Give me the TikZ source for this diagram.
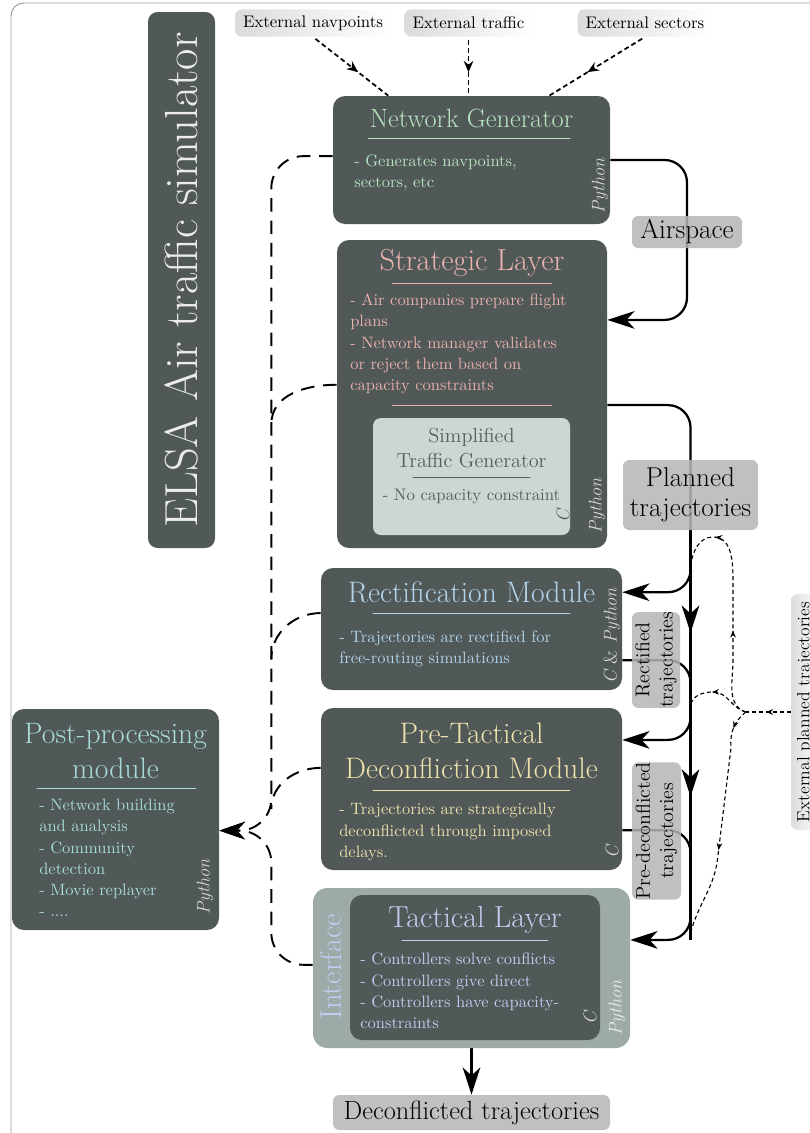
\documentclass[tikz,border=0pt]{standalone}
\usepackage{tikz}
\usetikzlibrary{arrows.meta, calc, decorations.markings, backgrounds}
\definecolor{slateBox}{RGB}{80,88,88}
\definecolor{mintTxt}{RGB}{184,228,190}
\definecolor{roseTxt}{RGB}{234,178,172}
\definecolor{skyTxt}{RGB}{178,212,234}
\definecolor{aquaTxt}{RGB}{168,218,218}
\definecolor{sandTxt}{RGB}{238,226,172}
\definecolor{lilacTxt}{RGB}{196,204,240}
\definecolor{paleBox}{RGB}{205,214,213}
\definecolor{paleTxt}{RGB}{85,93,93}
\definecolor{ifaceBox}{RGB}{158,170,168}
\definecolor{tagGray}{RGB}{181,181,181}
\definecolor{frameGray}{RGB}{155,155,155}
\tikzset{
  boxsize/.style 2 args={minimum width=#1*0.625pt, minimum height=#2*0.625pt},
  slate/.style={fill=slateBox, rounded corners=7.5pt, inner sep=0pt},
  tagbox/.style={fill=tagGray, fill opacity=0.85, text opacity=1, rounded corners=4pt,
    inner sep=0pt, align=center, font=\fontsize{17}{19}\selectfont},
  extbox/.style={left color=gray!28, right color=white, rounded corners=4pt,
    inner xsep=5pt, inner ysep=0pt, minimum height=17pt, font=\fontsize{10.5}{12}\selectfont},
  boxtitle/.style={inner sep=0pt, align=center, font=\fontsize{18.5}{22}\selectfont},
  boxtext/.style={inner sep=0pt, align=left, anchor=west, font=\fontsize{10.3}{13.3}\selectfont},
  langtag/.style={inner sep=0pt, rotate=90, text=gray!30, font=\fontsize{11.5}{13}\selectfont\itshape},
  rule/.style={line width=0.6pt},
  flow/.style={line width=1.4pt, -{Stealth[length=17pt, width=11pt, inset=5pt]}},
  feedline/.style={line width=1.2pt, dash pattern=on 8.5pt off 5.5pt},
  feed/.style={feedline, -{Stealth[length=16pt, width=11pt, inset=5pt]}},
  extfeed/.style={line width=1.1pt, dash pattern=on 3pt off 2pt},
  extplanline/.style={line width=0.7pt, dash pattern=on 2.5pt off 1.8pt},
  midtip/.style={postaction={decorate, decoration={markings,
    mark=at position #1 with {\arrow{Stealth[length=7pt, width=6pt]}}}}},
  smalltip/.style={postaction={decorate, decoration={markings,
    mark=at position #1 with {\arrow{Stealth[length=4.5pt, width=3.5pt]}}}}},
  bigtip/.style={postaction={decorate, decoration={markings,
    mark=at position #1 with {\arrow{Stealth[length=17pt, width=11pt, inset=5pt]}}}}},
}

\begin{document}
\begin{tikzpicture}[x=0.625pt, y=0.625pt, line cap=round]
  \useasboundingbox (0,0) rectangle (809,-1133);
  \draw[frameGray, line width=0.6pt, rounded corners=8pt] (11,-3) rectangle (860,-1180);

  \node[slate, rotate=90, boxsize={536}{67}, rounded corners=6pt, text=gray!15,
    font=\fontsize{29}{32}\selectfont] (elsa) at (181.5,-280) {ELSA Air traffic simulator};

  \node[extbox] (extnav) at (313,-23) {External navpoints};
  \node[extbox] (exttraf) at (468.5,-23) {External traffic};
  \node[extbox] (extsec) at (645,-23) {External sectors};

  % network generator
  \node[slate, boxsize={277}{128}] (netgen) at (471.5,-160) {};
  \node[boxtitle, text=mintTxt, font=\fontsize{16.5}{20}\selectfont] (netgenT) at (471.5,-118) {Network Generator};
  \draw[rule, mintTxt] (368,-138) -- (570,-138);
  \node[boxtext, text=mintTxt] (netgenB) at (354,-173) {- Generates navpoints,\\sectors, etc};
  \node[langtag] (netgenL) at (600,-186) {Python};

  \node[tagbox, boxsize={110}{32}] (airsp) at (687,-232) {Airspace};

  % strategic layer
  \node[slate, boxsize={270}{308}] (strat) at (472,-394) {};
  \node[boxtitle, text=roseTxt, font=\fontsize{19}{22}\selectfont] (stratT) at (472,-263) {Strategic Layer};
  \draw[rule, roseTxt] (392,-283) -- (552,-283);
  \node[boxtext, text=roseTxt] (stratB) at (350,-344) {- Air companies prepare flight\\plans\\- Network manager validates\\or reject them based on\\capacity constraints};
  \draw[rule, roseTxt] (392,-405) -- (552,-405);
  \node[fill=paleBox, rounded corners=5pt, boxsize={197}{117}] (simpl) at (471.5,-476.5) {};
  \node[inner sep=0pt, text=paleTxt, align=center, font=\fontsize{12.7}{15.6}\selectfont] (simplT) at (471.5,-448) {Simplified\\Traffic Generator};
  \draw[rule, paleTxt] (413,-477) -- (530,-477);
  \node[inner sep=0pt, text=paleTxt, font=\fontsize{10.5}{13}\selectfont] (simplB) at (471.5,-496) {- No capacity constraint};
  \node[langtag, text=paleTxt] (simplL) at (563,-516) {C};
  \node[langtag] (stratL) at (597,-506) {Python};

  \node[tagbox, boxsize={135}{70}] (plan) at (690.5,-495) {Planned\\trajectories};

  % rectification
  \node[slate, boxsize={301}{122}] (rectif) at (471.5,-629) {};
  \node[boxtitle, text=skyTxt] (rectifT) at (471.5,-592) {Rectification Module};
  \draw[rule, skyTxt] (373,-613) -- (570,-613);
  \node[boxtext, text=skyTxt] (rectifB) at (339,-649) {- Trajectories are rectified for\\free-routing simulations};
  \node[langtag] (rectifL) at (612,-636) {C {\upshape\&} Python};
  \node[tagbox, rotate=90, boxsize={90}{48}, font=\fontsize{12.5}{14.5}\selectfont] (rectTag) at (656,-660) {Rectified\\trajectories};

  % post-processing
  \node[slate, boxsize={207}{221}] (post) at (115.5,-819.5) {};
  \node[boxtitle, text=aquaTxt] (postT) at (115.5,-751) {Post-processing\\module};
  \draw[rule, aquaTxt] (37,-788) -- (196,-788);
  \node[boxtext, text=aquaTxt] (postB) at (39,-858) {- Network building\\and analysis\\- Community\\detection\\- Movie replayer\\- ....};
  \node[langtag] (postL) at (205,-887) {Python};

  % pre-tactical
  \node[slate, boxsize={301}{162}] (pretac) at (471.5,-789) {};
  \node[boxtitle, text=sandTxt] (pretacT) at (471.5,-751) {Pre-Tactical\\Deconfliction Module};
  \draw[rule, sandTxt] (373,-790) -- (570,-790);
  \node[boxtext, text=sandTxt] (pretacB) at (339,-832) {- Trajectories are strategically\\deconflicted through imposed\\delays.};
  \node[langtag] (pretacL) at (612,-852) {C};
  \node[tagbox, rotate=90, boxsize={128}{49}, font=\fontsize{12.5}{14.5}\selectfont] (preTag) at (656.5,-831) {Pre-deconflicted\\trajectories};

  % tactical layer + interface
  \node[fill=ifaceBox, rounded corners=9pt, boxsize={317}{160}] (iface) at (471.5,-968) {};
  \node[rotate=90, inner sep=0pt, text=lilacTxt, font=\fontsize{19}{22}\selectfont] (ifaceT) at (331,-967) {Interface};
  \node[slate, boxsize={250}{145}] (tact) at (475,-967.5) {};
  \node[boxtitle, text=lilacTxt, font=\fontsize{19}{22}\selectfont] (tactT) at (475,-920) {Tactical Layer};
  \draw[rule, lilacTxt] (402,-940) -- (548,-940);
  \node[boxtext, text=lilacTxt] (tactB) at (360,-991) {- Controllers solve conflicts\\- Controllers give direct\\- Controllers have capacity-\\constraints};
  \node[langtag] (tactL) at (590,-1018) {C};
  \node[langtag, text=gray!15] (ifaceL) at (617,-1008) {Python};

  \node[tagbox, boxsize={277}{35}, font=\fontsize{16.5}{19}\selectfont] (deconf) at (471.5,-1112.5) {Deconflicted trajectories};

  \node[extbox, rotate=90, boxsize={225}{28}, font=\fontsize{11}{13}\selectfont] (extplan) at (805,-712) {External planned trajectories};

  \coordinate (sA) at ($(strat.north east)!.26!(strat.south east)$);
  \coordinate (sB) at ($(strat.north east)!.536!(strat.south east)$);
  \coordinate (rA) at ($(rectif.north east)!.2!(rectif.south east)$);
  \coordinate (rB) at ($(rectif.north east)!.754!(rectif.south east)$);
  \coordinate (pA) at ($(pretac.north east)!.198!(pretac.south east)$);
  \coordinate (pB) at ($(pretac.north east)!.753!(pretac.south east)$);
  \coordinate (iA) at ($(iface.north east)!.325!(iface.south east)$);
  \coordinate (pin) at ($(post.north east)!.55!(post.south east)$);
  \coordinate (bus) at ($(pin)+(52,0)$);
  \coordinate (fork) at ($(extplan.north)+(-45,0)$);

  \begin{scope}[on background layer]
    % solid flow
    \draw[flow, rounded corners=14pt] (netgen.east) -| (airsp.center |- sA) -- (sA);
    \draw[flow, rounded corners=14pt] (sB) -| (plan.center |- rA) -- (rA);
    \draw[line width=1.4pt, bigtip=0.25, bigtip=0.65] (plan.south) -- (plan.center |- iA);
    \draw[flow, rounded corners=14pt] (rB) -| (plan.center |- pA) -- (pA);
    \draw[flow, rounded corners=14pt] (pB) -| (plan.center |- iA) -- (iA);
    \draw[flow] (iface.south) -- (deconf.north);

    % external inputs
    \draw[extfeed, midtip=0.6, shorten <=2pt] (extnav.south) -- ($(netgen.north west)!.2!(netgen.north east)$);
    \draw[extfeed, midtip=0.6, shorten <=2pt] (exttraf.south) -- (exttraf.south |- netgen.north);
    \draw[extfeed, midtip=0.6, shorten <=2pt] (extsec.south) -- ($(netgen.north west)!.78!(netgen.north east)$);

    % outputs to post-processing
    \draw[feed, rounded corners=20pt] ($(netgen.north west)!.47!(netgen.south west)$) -| (bus) -- (pin);
    \draw[feed, rounded corners=20pt] ($(iface.north west)!.48!(iface.south west)$) -| (bus) -- (pin);
    \draw[feedline] ($(strat.north west)!.47!(strat.south west)$) to[out=180, in=90] ($(bus |- strat.west)+(0,-30)$);
    \draw[feedline] ($(rectif.north west)!.37!(rectif.south west)$) to[out=180, in=90] ($(bus |- rectif.west)+(0,-30)$);
    \draw[feedline] ($(pretac.north west)!.37!(pretac.south west)$) to[out=180, in=90] ($(bus |- pretac.west)+(0,-20)$);

    % external planned trajectories
    \draw[extplanline, smalltip=0.55] (extplan.north) -- (fork);
    \draw[extplanline, smalltip=0.38, smalltip=0.82] (fork) to[out=160, in=-90] (733,-660) -- (733,-585)
      to[out=90, in=0] (713,-537) to[out=180, in=80] ($(plan.center)+(0,-70)$);
    \draw[extplanline, smalltip=0.6] (fork) to[out=165, in=0] (713,-692) to[out=180, in=75] ($(plan.center)+(0,-210)$);
    \draw[extplanline, smalltip=0.09, smalltip=0.62] (fork) to[out=-140, in=95] (731,-748) -- (718,-855)
      to[out=-95, in=75] ($(plan.center)+(0,-438)$);
  \end{scope}
\end{tikzpicture}
\end{document}
